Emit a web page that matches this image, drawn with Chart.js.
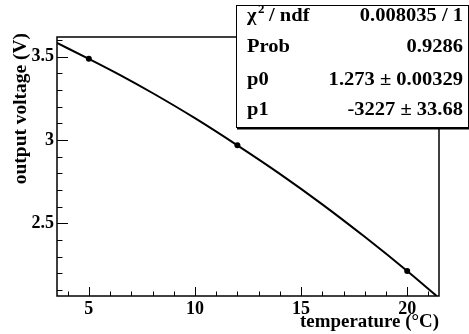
<!DOCTYPE html>
<html><head><meta charset="utf-8">
<script src="https://cdn.jsdelivr.net/npm/chart.js@4/dist/chart.umd.min.js"></script>
<style>html,body{margin:0;padding:0;background:#fff;}#wrap{width:469px;height:334px;}</style>
</head><body><div id="wrap"><canvas id="c" width="469" height="334"></canvas></div>
<script>
// measured data points
const temperatures = [5, 12, 20];
const voltages = [3.487, 2.968, 2.214];
// fit curve
const fitTemperatures = [3.5, 5, 6.5, 8, 10, 12, 14, 16, 18, 20, 21.4];
const fitVoltages = [3.582, 3.487, 3.388, 3.282, 3.131, 2.968, 2.797, 2.614, 2.419, 2.214, 2.063];
// axis ticks
const xMajorTicks = [5, 10, 15, 20];
const xMinorTicks = [4, 6, 7, 8, 9, 11, 12, 13, 14, 16, 17, 18, 19, 21];
const yMajorTicks = [2.5, 3, 3.5];
const yMinorTicks = [2.1, 2.2, 2.3, 2.4, 2.6, 2.7, 2.8, 2.9, 3.1, 3.2, 3.3, 3.4, 3.6];
const xRange = [3.5, 21.5];
const yRange = [2.064, 3.618];
const xTitle = 'temperature (°C)';
const yTitle = 'output voltage (V)';
const statLabels = ['χ', 'Prob', 'p0', 'p1'];
const statValues = ['0.008035 / 1', '0.9286', '1.273 ± 0.00329', '-3227 ± 33.68'];

const FONT = '"Liberation Serif", "Times New Roman", serif';

function stretchedText(ctx, text, x, y, align, size, sx) {
  ctx.save();
  ctx.translate(x, y);
  ctx.scale(sx, 1);
  ctx.font = 'bold ' + size + 'px ' + FONT;
  ctx.textAlign = align;
  ctx.textBaseline = 'middle';
  ctx.fillText(text, 0, 0);
  ctx.restore();
}

const decor = {
  id: 'decor',
  afterDatasetsDraw(chart) {
    const ctx = chart.ctx;
    const a = chart.chartArea;
    const xs = chart.scales.x, ys = chart.scales.y;
    ctx.save();
    ctx.strokeStyle = '#000';
    ctx.fillStyle = '#000';
    ctx.lineWidth = 1;
    ctx.beginPath();
    xMajorTicks.forEach(v => { const p = Math.round(xs.getPixelForValue(v)) + 0.5; ctx.moveTo(p, a.bottom); ctx.lineTo(p, a.bottom - 9); });
    xMinorTicks.forEach(v => { const p = Math.round(xs.getPixelForValue(v)) + 0.5; ctx.moveTo(p, a.bottom); ctx.lineTo(p, a.bottom - 4.5); });
    yMajorTicks.forEach(v => { const p = Math.round(ys.getPixelForValue(v)) + 0.5; ctx.moveTo(a.left, p); ctx.lineTo(a.left + 11, p); });
    yMinorTicks.forEach(v => { const p = Math.round(ys.getPixelForValue(v)) + 0.5; ctx.moveTo(a.left, p); ctx.lineTo(a.left + 5.5, p); });
    ctx.stroke();
    ctx.lineWidth = 1.5;
    ctx.strokeRect(a.left, a.top, a.right - a.left, a.bottom - a.top);
    // axis titles
    stretchedText(ctx, xTitle, a.right, 322, 'right', 18, 1.05);
    ctx.save();
    ctx.translate(21, a.top - 4);
    ctx.rotate(-Math.PI / 2);
    stretchedText(ctx, yTitle, 0, 0, 'right', 18, 1.08);
    ctx.restore();
    // stats box
    const bx = 236, by = 5, bw = 232, bh = 122;
    ctx.fillStyle = '#fff';
    ctx.fillRect(bx, by, bw, bh);
    ctx.lineWidth = 1;
    ctx.strokeStyle = '#000';
    ctx.strokeRect(bx + 0.5, by + 0.5, bw, bh);
    ctx.lineWidth = 2;
    ctx.beginPath();
    ctx.moveTo(bx + 1, by + bh + 1.5); ctx.lineTo(bx + bw + 1, by + bh + 1.5);
    ctx.stroke();
    ctx.fillStyle = '#000';
    const rowY = [16, 47, 80, 110];
    const sx = 1.08;
    for (let i = 0; i < statLabels.length; i++) {
      if (i === 0) {
        stretchedText(ctx, 'χ', 247, rowY[0], 'left', 19, sx);
        stretchedText(ctx, '2', 258, rowY[0] - 6, 'left', 12, sx);
        stretchedText(ctx, '/ ndf', 269, rowY[0], 'left', 19, sx);
      } else {
        stretchedText(ctx, statLabels[i], 247, rowY[i], 'left', 19, sx);
      }
      stretchedText(ctx, statValues[i], 463, rowY[i], 'right', 19, sx);
    }
    ctx.restore();
  }
};

const fitData = fitTemperatures.map((t, i) => ({ x: t, y: fitVoltages[i] }));
const pointData = temperatures.map((t, i) => ({ x: t, y: voltages[i] }));

new Chart(document.getElementById('c'), {
  type: 'scatter',
  data: {
    datasets: [
      { type: 'line', data: fitData, borderColor: '#000', borderWidth: 2, pointRadius: 0, cubicInterpolationMode: 'monotone', fill: false },
      { data: pointData, pointRadius: 3, pointBackgroundColor: '#000', pointBorderColor: '#000', pointBorderWidth: 0 }
    ]
  },
  options: {
    responsive: false,
    devicePixelRatio: 1,
    animation: false,
    layout: { padding: { left: 0, top: 37, right: 30, bottom: 0 } },
    plugins: { legend: { display: false }, tooltip: { enabled: false } },
    scales: {
      x: {
        type: 'linear', min: xRange[0], max: xRange[1],
        grid: { display: false, drawTicks: false },
        border: { display: false },
        afterBuildTicks: s => { s.ticks = xMajorTicks.map(v => ({ value: v })); },
        afterFit: s => { s.height = 38; },
        ticks: { color: '#000', font: { family: FONT, size: 18, weight: 'bold' }, padding: 3, maxRotation: 0 }
      },
      y: {
        type: 'linear', min: yRange[0], max: yRange[1],
        grid: { display: false, drawTicks: false },
        border: { display: false },
        afterBuildTicks: s => { s.ticks = yMajorTicks.map(v => ({ value: v })); },
        afterFit: s => { s.width = 57; },
        ticks: { color: '#000', font: { family: FONT, size: 18, weight: 'bold' }, padding: 3, callback: v => String(v) }
      }
    }
  },
  plugins: [decor]
});
</script>
</body></html>
